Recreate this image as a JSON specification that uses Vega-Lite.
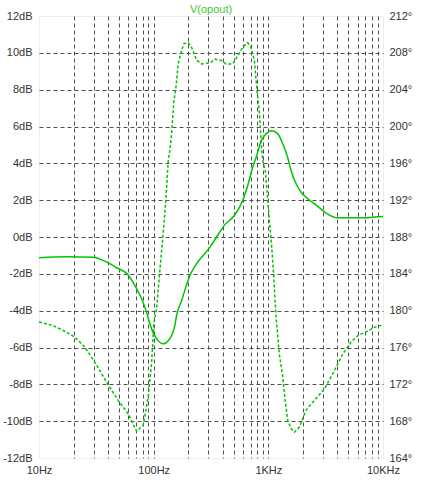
{
  "$schema": "https://vega.github.io/schema/vega-lite/v6.json",
  "width": 344,
  "height": 442,
  "autosize": {"type": "none"},
  "padding": {"left": 39, "top": 16, "right": 39, "bottom": 23},
  "background": "white",
  "config": {
    "view": {"stroke": "#eeeeee", "strokeWidth": 1},
    "font": "Liberation Sans",
    "axis": {"labelFont": "Liberation Sans", "labelFontSize": 11, "labelColor": "#333333", "ticks": false, "domain": false, "title": null}
  },
  "title": {"text": "V(opout)", "color": "#3cc83c", "fontSize": 11, "fontWeight": "normal", "font": "Liberation Sans", "offset": 0, "dy": 5, "anchor": "middle"},
  "datasets": {
    "mag": [
      {"f": 10, "db": -1.13}, {"f": 17.3, "db": -1.07}, {"f": 30.2, "db": -1.1}, {"f": 33.9, "db": -1.2},
      {"f": 41.4, "db": -1.45}, {"f": 47.4, "db": -1.67}, {"f": 59.8, "db": -2.05}, {"f": 68.5, "db": -2.63},
      {"f": 78.4, "db": -3.35}, {"f": 86.7, "db": -4.08}, {"f": 91, "db": -4.55}, {"f": 97, "db": -5.07},
      {"f": 106, "db": -5.52}, {"f": 121, "db": -5.8}, {"f": 138.4, "db": -5.52}, {"f": 153, "db": -4.8},
      {"f": 158.5, "db": -4.26}, {"f": 175.3, "db": -3.45}, {"f": 207, "db": -2.09}, {"f": 237, "db": -1.45},
      {"f": 310, "db": -0.55}, {"f": 361, "db": 0.08}, {"f": 413, "db": 0.63}, {"f": 505, "db": 1.17},
      {"f": 598, "db": 1.98}, {"f": 661, "db": 2.8}, {"f": 731, "db": 3.79}, {"f": 790, "db": 4.4},
      {"f": 864, "db": 5.2}, {"f": 955, "db": 5.6}, {"f": 1071, "db": 5.77}, {"f": 1209, "db": 5.6},
      {"f": 1336, "db": 5.06}, {"f": 1477, "db": 4.3}, {"f": 1579, "db": 3.6}, {"f": 1746, "db": 2.89},
      {"f": 1931, "db": 2.43}, {"f": 2210, "db": 2.08}, {"f": 2700, "db": 1.66}, {"f": 3190, "db": 1.3},
      {"f": 4040, "db": 1.04}, {"f": 5275, "db": 1.04}, {"f": 6890, "db": 1.04}, {"f": 8430, "db": 1.08},
      {"f": 10000, "db": 1.11}
    ],
    "phase": [
      {"f": 10, "deg": 178.76}, {"f": 13.2, "deg": 178.4}, {"f": 17.3, "deg": 177.68}, {"f": 20.5, "deg": 177.13},
      {"f": 25.1, "deg": 176.05}, {"f": 30.6, "deg": 174.42}, {"f": 38.8, "deg": 172.25}, {"f": 49, "deg": 170.26},
      {"f": 59.8, "deg": 168.82}, {"f": 71, "deg": 166.9}, {"f": 81, "deg": 167.55}, {"f": 89.5, "deg": 170.62},
      {"f": 95.9, "deg": 174.25}, {"f": 100.4, "deg": 178.6}, {"f": 106, "deg": 180.2}, {"f": 113.2, "deg": 184.37},
      {"f": 121, "deg": 188.36}, {"f": 127, "deg": 191.6}, {"f": 134, "deg": 196.3}, {"f": 138.4, "deg": 197.4},
      {"f": 143.3, "deg": 199.2}, {"f": 150, "deg": 202.8}, {"f": 156, "deg": 204.1}, {"f": 163.7, "deg": 206.8},
      {"f": 175.3, "deg": 208.3}, {"f": 183.6, "deg": 209.0}, {"f": 200, "deg": 209.1}, {"f": 214, "deg": 208.6},
      {"f": 237, "deg": 207.2}, {"f": 262, "deg": 206.8}, {"f": 310, "deg": 206.9}, {"f": 340, "deg": 207.3},
      {"f": 386, "deg": 207.2}, {"f": 427, "deg": 206.8}, {"f": 489, "deg": 206.8}, {"f": 541, "deg": 207.7},
      {"f": 598, "deg": 208.6}, {"f": 661, "deg": 209.1}, {"f": 706, "deg": 208.6}, {"f": 755, "deg": 207.2},
      {"f": 797, "deg": 203.9}, {"f": 834, "deg": 201.7}, {"f": 864, "deg": 198.5}, {"f": 893, "deg": 196.3},
      {"f": 942, "deg": 195.2}, {"f": 988, "deg": 191.97}, {"f": 1021, "deg": 189.8}, {"f": 1071, "deg": 186.9},
      {"f": 1115, "deg": 183.65}, {"f": 1167, "deg": 179.3}, {"f": 1247, "deg": 175.3}, {"f": 1336, "deg": 172.8},
      {"f": 1400, "deg": 170.26}, {"f": 1477, "deg": 168.1}, {"f": 1579, "deg": 167.2}, {"f": 1687, "deg": 166.8},
      {"f": 1866, "deg": 167.36}, {"f": 2135, "deg": 169.2}, {"f": 2520, "deg": 170.26}, {"f": 3085, "deg": 171.5},
      {"f": 3770, "deg": 173.5}, {"f": 4465, "deg": 175.3}, {"f": 5275, "deg": 176.6}, {"f": 6040, "deg": 177.3},
      {"f": 7130, "deg": 177.7}, {"f": 8430, "deg": 178.2}, {"f": 9640, "deg": 178.4}, {"f": 10000, "deg": 178.5}
    ]
  },
  "layer": [
    {
      "data": {"name": "mag"},
      "mark": {"type": "line", "color": "#00c400", "strokeWidth": 1.5, "interpolate": "monotone"},
      "encoding": {
        "x": {
          "field": "f", "type": "quantitative",
          "scale": {"type": "log", "domain": [10, 10000], "nice": false},
          "axis": {
            "values": [10, 20, 30, 40, 50, 60, 70, 80, 90, 100, 200, 300, 400, 500, 600, 700, 800, 900, 1000, 2000, 3000, 4000, 5000, 6000, 7000, 8000, 9000, 10000],
            "labelExpr": "datum.value == 10 ? '10Hz' : datum.value == 100 ? '100Hz' : datum.value == 1000 ? '1KHz' : datum.value == 10000 ? '10KHz' : ''",
            "labelOverlap": false,
            "labelBound": false,
            "labelFlush": false,
            "labelPadding": 6,
            "grid": true,
            "gridColor": "#505050",
            "gridDash": [4, 3],
            "gridWidth": 1,
            "gridOpacity": {"condition": {"test": "datum.value == 10 || datum.value == 10000", "value": 0}, "value": 1}
          }
        },
        "y": {
          "field": "db", "type": "quantitative",
          "scale": {"domain": [-12, 12], "nice": false, "zero": false},
          "axis": {
            "orient": "left",
            "values": [-12, -10, -8, -6, -4, -2, 0, 2, 4, 6, 8, 10, 12],
            "labelExpr": "datum.value + 'dB'",
            "labelPadding": 7,
            "grid": true,
            "gridColor": "#505050",
            "gridDash": [4, 3],
            "gridWidth": 1,
            "gridOpacity": {"condition": {"test": "datum.value == 12 || datum.value == -12", "value": 0}, "value": 1}
          }
        }
      }
    },
    {
      "data": {"name": "phase"},
      "mark": {"type": "line", "color": "#00c400", "strokeWidth": 1.5, "strokeDash": [3, 2], "interpolate": "linear"},
      "encoding": {
        "x": {"field": "f", "type": "quantitative"},
        "y": {
          "field": "deg", "type": "quantitative",
          "scale": {"domain": [164, 212], "nice": false, "zero": false},
          "axis": {
            "orient": "right",
            "values": [164, 168, 172, 176, 180, 184, 188, 192, 196, 200, 204, 208, 212],
            "labelExpr": "datum.value + '°'",
            "labelPadding": 6,
            "grid": false
          }
        }
      }
    }
  ],
  "resolve": {"scale": {"y": "independent"}, "axis": {"y": "independent"}}
}
